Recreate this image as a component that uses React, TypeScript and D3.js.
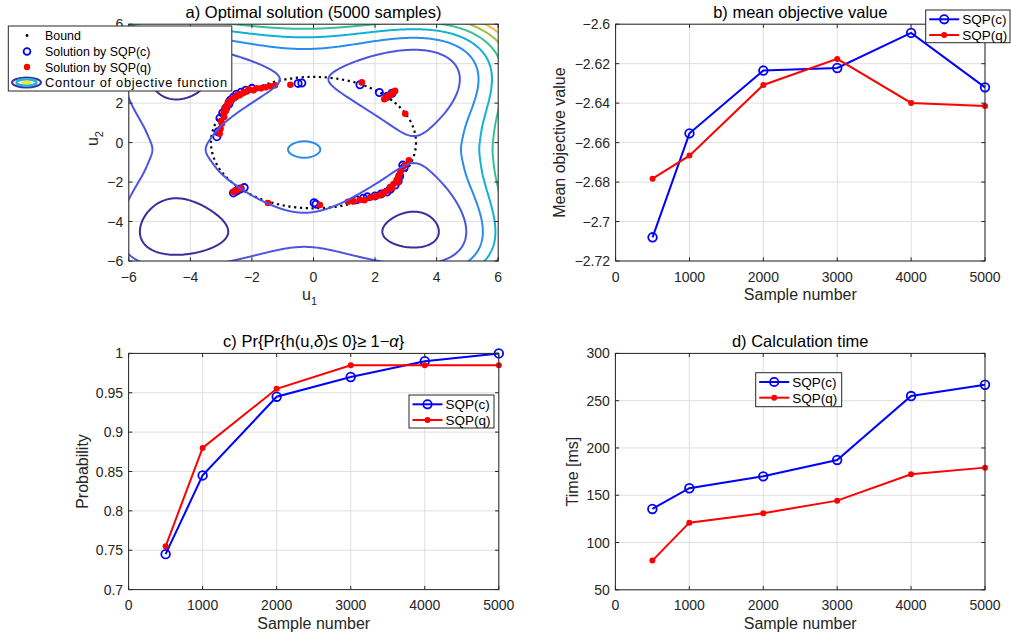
import React from 'react';
import * as d3 from 'd3';

const W = 1011, H = 635;
const FONT = '"Liberation Sans", Arial, sans-serif';

// ---------- data ----------
const sampleNumbers = [500, 1000, 2000, 3000, 4000, 5000];
const meanObjC = [-2.708, -2.6553, -2.6235, -2.6222, -2.6044, -2.632];
const meanObjQ = [-2.6783, -2.6666, -2.6308, -2.6176, -2.6399, -2.6414];
const probC = [0.745, 0.845, 0.945, 0.97, 0.99, 1.0];
const probQ = [0.755, 0.88, 0.955, 0.985, 0.985, 0.985];
const timeC = [135.5, 157.4, 170, 187.3, 254.9, 266.9];
const timeQ = [80.9, 121, 131, 144.3, 172.2, 179.2];

const sampleTicks = [0, 1000, 2000, 3000, 4000, 5000];
const objTicks = [-2.72, -2.7, -2.68, -2.66, -2.64, -2.62, -2.6];
const probTicks = [0.7, 0.75, 0.8, 0.85, 0.9, 0.95, 1];
const timeTicks = [50, 100, 150, 200, 250, 300];
const uTicks = [-6, -4, -2, 0, 2, 4, 6];
const uTickLabelsHidden = [4]; // covered by the legend in panel a

// solutions (u1, u2)
const solC: [number, number][] = [
  [-3.14, 0.3], [-3.1, 0.55], [-3.04, 1.24], [-2.95, 1.5], [-2.85, 1.75], [-2.75, 1.95],
  [-2.7, 2.15], [-2.6, 2.3], [-2.5, 2.45], [-2.35, 2.55], [-2.2, 2.65], [-2.0, 2.75],
  [-0.5, 3.0], [-0.38, 3.02], [1.51, 2.93], [2.14, 2.54], [2.4, 2.35], [2.55, 2.5],
  [-2.6, -2.55], [-2.5, -2.45], [-2.38, -2.35], [-2.25, -2.28], [0.02, -3.05], [0.08, -3.12],
  [1.4, -2.9], [1.62, -2.82], [1.75, -2.75], [2.0, -2.7], [2.2, -2.6], [2.39, -2.5],
  [2.5, -2.35], [2.65, -2.15], [2.75, -1.95], [2.8, -1.7], [2.9, -1.14], [2.95, -1.25],
];
const solQ: [number, number][] = [
  [-3.05, 0.45], [-3.02, 0.7], [-2.98, 0.95], [-3.0, 1.1], [-2.9, 1.3], [-2.92, 1.5],
  [-2.85, 1.6], [-2.88, 1.75], [-2.8, 1.85], [-2.75, 1.95], [-2.78, 2.05], [-2.7, 2.1],
  [-2.65, 2.2], [-2.6, 2.25], [-2.55, 2.3], [-2.5, 2.35], [-2.45, 2.45], [-2.4, 2.4],
  [-2.3, 2.5], [-2.25, 2.55], [-2.15, 2.6], [-2.1, 2.7], [-1.95, 2.65], [-1.85, 2.75],
  [-1.7, 2.75], [-1.55, 2.8], [-1.4, 2.85], [-1.25, 2.9], [-0.75, 2.93],
  [1.57, 3.05], [2.3, 2.2], [2.35, 2.28], [2.4, 2.32], [2.45, 2.38], [2.5, 2.42],
  [2.55, 2.5], [2.6, 2.55], [2.65, 2.62], [2.98, 1.46],
  [-2.6, -2.5], [-2.55, -2.45], [-2.5, -2.42], [-2.45, -2.38], [-2.4, -2.35], [-2.35, -2.3],
  [-1.48, -3.06], [0.21, -3.16], [1.12, -3.0], [1.3, -2.98], [1.5, -2.9], [1.65, -2.92],
  [1.84, -2.8], [1.95, -2.75], [2.05, -2.72], [2.16, -2.66], [2.25, -2.6], [2.3, -2.5],
  [2.4, -2.45], [2.49, -2.25], [2.55, -2.3], [2.6, -2.1], [2.7, -1.9], [2.75, -2.0],
  [2.78, -1.7], [2.81, -1.55], [2.85, -1.4], [2.98, -1.14], [3.1, -0.9],
];

const boundRadius = 3.33;

// objective function (separable polynomial approximation)
const objCenter = [-0.3, -0.35];
const objPosCoef = [-0.1447, -0.00684, 0.00795, 0, -0.0000418]; // powers 2..6, t >= 0
const objNegCoef = [-0.1447, 0.000342, 0.00412, 0, 0]; // powers 2..6, t < 0
const objU2Bump = [0.12, 0.7];
const contourLevels = [-1.97, -1.04, -0.04, 0.96, 1.96, 2.96, 3.96, 4.96];
const contourColors = ['#3d2c9c', '#4a56e3', '#2b8deb', '#12b1d3', '#36c096', '#a3be3a', '#f8b93c', '#f6e628'];

// ---------- helpers ----------
const fmt = (v: number) => (v < 0 ? '\u2212' : '') + String(Math.abs(v));

function g(t: number, coef: number[]) {
  const s = Math.abs(t);
  let r = 0;
  for (let k = 0; k < coef.length; k++) r += coef[k] * Math.pow(s, k + 2);
  return r;
}
function objective(u1: number, u2: number) {
  const t1 = u1 - objCenter[0];
  const t2 = u2 - objCenter[1];
  const g1 = g(t1, t1 >= 0 ? objPosCoef : objNegCoef);
  const g2 = g(t2, t2 >= 0 ? objPosCoef : objNegCoef) -
    objU2Bump[0] * t2 * t2 * Math.exp(-(t2 * t2) / (objU2Bump[1] * objU2Bump[1]));
  return g1 + g2;
}

type Box = { x: number; y: number; w: number; h: number };
const boxA: Box = { x: 128.8, y: 24.2, w: 369.4, h: 236.8 };
const boxB: Box = { x: 615.6, y: 24.2, w: 369.4, h: 236.8 };
const boxC: Box = { x: 128.6, y: 353.4, w: 370.2, h: 236.2 };
const boxD: Box = { x: 615.4, y: 353.4, w: 369.6, h: 236.4 };

const AXC = '#262626';
const GRIDC = '#dfdfdf';
const TICKFS = 14;
const LABELFS = 16;
const TITLEFS = 16.5;

function Frame({ b, xs, ys, xt, yt, hideY = [], children }: any) {
  const tl = 3.7;
  return (
    <g>
      <rect x={b.x} y={b.y} width={b.w} height={b.h} fill="white" />
      {xt.map((v: number, i: number) => (
        <line key={'gx' + i} x1={xs(v)} x2={xs(v)} y1={b.y} y2={b.y + b.h} stroke={GRIDC} strokeWidth={1} />
      ))}
      {yt.map((v: number, i: number) => (
        <line key={'gy' + i} y1={ys(v)} y2={ys(v)} x1={b.x} x2={b.x + b.w} stroke={GRIDC} strokeWidth={1} />
      ))}
      {children}
      <rect x={b.x} y={b.y} width={b.w} height={b.h} fill="none" stroke={AXC} strokeWidth={1} />
      {xt.map((v: number, i: number) => (
        <g key={'tx' + i}>
          <line x1={xs(v)} x2={xs(v)} y1={b.y + b.h} y2={b.y + b.h - tl} stroke={AXC} />
          <line x1={xs(v)} x2={xs(v)} y1={b.y} y2={b.y + tl} stroke={AXC} />
          <text x={xs(v)} y={b.y + b.h + 20.5} textAnchor="middle" fontSize={TICKFS} fill={AXC}>{fmt(v)}</text>
        </g>
      ))}
      {yt.map((v: number, i: number) => (
        <g key={'ty' + i}>
          <line x1={b.x} x2={b.x + tl} y1={ys(v)} y2={ys(v)} stroke={AXC} />
          <line x1={b.x + b.w} x2={b.x + b.w - tl} y1={ys(v)} y2={ys(v)} stroke={AXC} />
          {hideY.indexOf(v) < 0 &&
            <text x={b.x - 5.5} y={ys(v) + 5} textAnchor="end" fontSize={TICKFS} fill={AXC}>{fmt(v)}</text>}
        </g>
      ))}
    </g>
  );
}

function LineLegend({ x, y, w, h }: any) {
  const rows = [
    { label: 'SQP(c)', color: '#0000ff', circle: true },
    { label: 'SQP(q)', color: '#ff0000', circle: false },
  ];
  return (
    <g>
      <rect x={x} y={y} width={w} height={h} fill="white" stroke={AXC} strokeWidth={1} />
      {rows.map((r, i) => {
        const cy = y + 9.3 + i * 15.7;
        return (
          <g key={i}>
            <line x1={x + 3.5} x2={x + 33.5} y1={cy} y2={cy} stroke={r.color} strokeWidth={2} />
            {r.circle
              ? <circle cx={x + 18.5} cy={cy} r={4.2} fill="none" stroke={r.color} strokeWidth={1.8} />
              : <circle cx={x + 18.5} cy={cy} r={3} fill={r.color} />}
            <text x={x + 36.5} y={cy + 4.9} fontSize={13.5} fill="#000">{r.label}</text>
          </g>
        );
      })}
    </g>
  );
}

function LinePanel({ b, yDomain, yt, cData, qData, title, ylabel, ylabelX, legend }: any) {
  const xs = d3.scaleLinear().domain([0, 5000]).range([b.x, b.x + b.w]);
  const ys = d3.scaleLinear().domain(yDomain).range([b.y + b.h, b.y]);
  const line = d3.line<number>().x((_, i) => xs(sampleNumbers[i])).y((d) => ys(d));
  return (
    <g>
      <Frame b={b} xs={xs} ys={ys} xt={sampleTicks} yt={yt}>
        <path d={line(cData) || ''} fill="none" stroke="#0000ff" strokeWidth={2} />
        {cData.map((d: number, i: number) => (
          <circle key={'c' + i} cx={xs(sampleNumbers[i])} cy={ys(d)} r={4.3} fill="none" stroke="#0000ff" strokeWidth={1.8} />
        ))}
        <path d={line(qData) || ''} fill="none" stroke="#ff0000" strokeWidth={2} />
        {qData.map((d: number, i: number) => (
          <circle key={'q' + i} cx={xs(sampleNumbers[i])} cy={ys(d)} r={3} fill="#ff0000" />
        ))}
      </Frame>
      <text x={b.x + b.w / 2} y={b.y - 6} textAnchor="middle" fontSize={TITLEFS} fill="#000">{title}</text>
      <text x={b.x + b.w / 2} y={b.y + b.h + 39.2} textAnchor="middle" fontSize={LABELFS} fill={AXC}>Sample number</text>
      <text transform={`translate(${ylabelX},${b.y + b.h / 2}) rotate(-90)`} textAnchor="middle" fontSize={LABELFS} fill={AXC}>{ylabel}</text>
      <LineLegend {...legend} />
    </g>
  );
}

function ContourPanel() {
  const b = boxA;
  const xs = d3.scaleLinear().domain([-6, 6]).range([b.x, b.x + b.w]);
  const ys = d3.scaleLinear().domain([-6, 6]).range([b.y + b.h, b.y]);
  const g0 = -6.6, step = 0.05;
  const n = Math.round((6.6 - g0) / step) + 1;
  const values = new Array(n * n);
  for (let j = 0; j < n; j++) {
    for (let i = 0; i < n; i++) values[j * n + i] = objective(g0 + i * step, g0 + j * step);
  }
  const contours = d3.contours().size([n, n]).thresholds(contourLevels)(values);
  const toU = (c: number) => g0 + (c - 0.5) * step;
  const paths = contours.map((c: any, k: number) => {
    let d = '';
    c.coordinates.forEach((poly: any) => {
      poly.forEach((ring: any) => {
        ring.forEach((p: any, idx: number) => {
          d += (idx === 0 ? 'M' : 'L') + xs(toU(p[0])).toFixed(2) + ',' + ys(toU(p[1])).toFixed(2);
        });
        d += 'Z';
      });
    });
    const li = contourLevels.indexOf(c.value);
    return <path key={k} d={d} fill="none" stroke={contourColors[li]} strokeWidth={2} />;
  });
  const rx = xs(boundRadius) - xs(0);
  const ry = ys(0) - ys(boundRadius);
  return (
    <g>
      <defs>
        <clipPath id="clipA"><rect x={b.x} y={b.y} width={b.w} height={b.h} /></clipPath>
      </defs>
      <Frame b={b} xs={xs} ys={ys} xt={uTicks} yt={uTicks} hideY={uTickLabelsHidden}>
        <g clipPath="url(#clipA)">
          <ellipse cx={xs(0)} cy={ys(0)} rx={rx} ry={ry} fill="none" stroke="#000" strokeWidth={2.2} strokeDasharray="2.2 3.6" />
          {solC.map((p, i) => (
            <circle key={'c' + i} cx={xs(p[0])} cy={ys(p[1])} r={3.6} fill="none" stroke="#0000ff" strokeWidth={1.8} />
          ))}
          {solQ.map((p, i) => (
            <circle key={'q' + i} cx={xs(p[0])} cy={ys(p[1])} r={3.3} fill="#ff0000" />
          ))}
          {paths}
        </g>
      </Frame>
      <text x={b.x + b.w / 2} y={b.y - 6.5} textAnchor="middle" fontSize={TITLEFS} fill="#000">a) Optimal solution (5000 samples)</text>
      <text x={b.x + b.w / 2 - 4} y={b.y + b.h + 39} textAnchor="middle" fontSize={LABELFS} fill={AXC}>u<tspan dy={5} fontSize={11}>1</tspan></text>
      <text transform={`translate(${b.x - 31},${b.y + b.h / 2 - 4}) rotate(-90)`} textAnchor="middle" fontSize={LABELFS} fill={AXC}>u<tspan dy={5} fontSize={11}>2</tspan></text>
      {/* legend */}
      <g>
        <rect x={8.3} y={26} width={223.5} height={65} fill="white" stroke={AXC} strokeWidth={1} />
        <circle cx={27} cy={35.5} r={1.4} fill="#000" />
        <text x={45} y={40} fontSize={12.4} fill="#000">Bound</text>
        <circle cx={27} cy={51.5} r={3.4} fill="none" stroke="#0000ff" strokeWidth={1.8} />
        <text x={45} y={56} fontSize={12.4} fill="#000">Solution by SQP(c)</text>
        <circle cx={27} cy={67} r={3.2} fill="#ff0000" />
        <text x={45} y={71.5} fontSize={12.4} fill="#000">Solution by SQP(q)</text>
        <ellipse cx={26.5} cy={82.5} rx={14.5} ry={5} fill="none" stroke="#3f2fa6" strokeWidth={2} />
        <ellipse cx={26.5} cy={82.5} rx={10} ry={3.2} fill="none" stroke="#1fb4cf" strokeWidth={2.4} />
        <ellipse cx={26.5} cy={82.5} rx={5.5} ry={1.7} fill="#f4e52b" />
        <text x={45} y={87} fontSize={12.8} fill="#000" textLength={182} lengthAdjust="spacing">Contour of objective function</text>
      </g>
    </g>
  );
}

export default function App() {
  return (
    <svg width={W} height={H} viewBox={`0 0 ${W} ${H}`} style={{ position: 'absolute', left: 0, top: 0, fontFamily: FONT, background: 'white' }}>
      <rect x={0} y={0} width={W} height={H} fill="white" />
      <ContourPanel />
      <LinePanel b={boxB} yDomain={[-2.72, -2.6]} yt={objTicks} cData={meanObjC} qData={meanObjQ}
        title="b) mean objective value" ylabel="Mean objective value" ylabelX={565}
        legend={{ x: 925.7, y: 10, w: 84.3, h: 32.7 }} />
      <LinePanel b={boxC} yDomain={[0.7, 1]} yt={probTicks} cData={probC} qData={probQ}
        title={<>c) Pr{'{'}Pr{'{'}h(u,<tspan fontStyle="italic">δ</tspan>)≤ 0{'}'}≥ 1−<tspan fontStyle="italic">α</tspan>{'}'}</>}
        ylabel="Probability" ylabelX={87.5}
        legend={{ x: 409, y: 395, w: 85, h: 33 }} />
      <LinePanel b={boxD} yDomain={[50, 300]} yt={timeTicks} cData={timeC} qData={timeQ}
        title="d) Calculation time" ylabel="Time [ms]" ylabelX={578}
        legend={{ x: 755.7, y: 372.7, w: 86, h: 34 }} />
    </svg>
  );
}
